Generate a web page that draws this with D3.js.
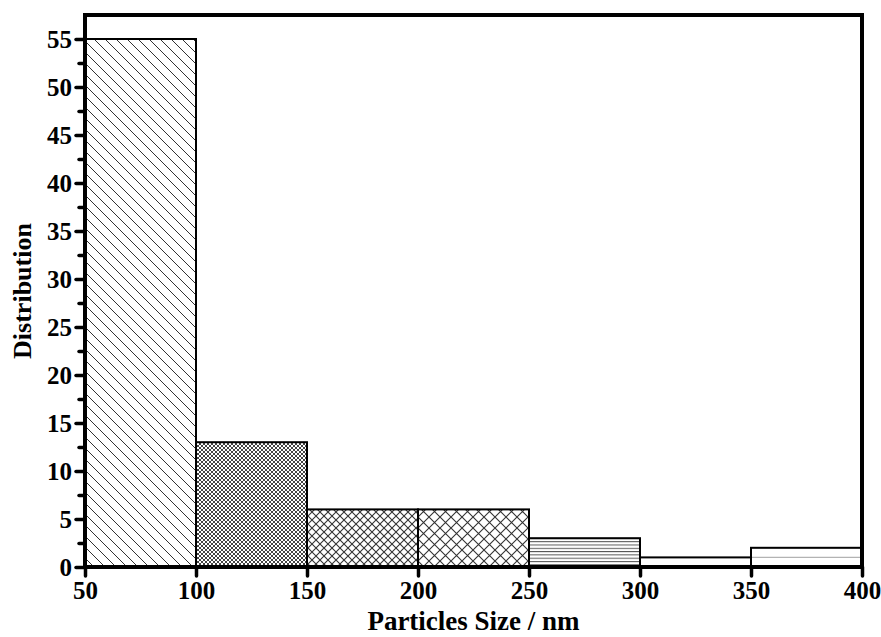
<!DOCTYPE html>
<html>
<head>
<script src="https://d3js.org/d3.v7.min.js"></script>
<style>
  body { margin: 0; background: #fff; }
  svg { font-family: "Liberation Serif", "Times New Roman", serif; font-weight: bold; }
  .bar { stroke: #000; stroke-width: 2; }
</style>
</head>
<body>
<svg id="chart" width="881" height="637"></svg>
<script>
// histogram bins (nm) and counts
var binEdges = [50, 100, 150, 200, 250, 300, 350, 400];
var counts = [55, 13, 6, 6, 3, 1, 2];
var xTicks = [50, 100, 150, 200, 250, 300, 350, 400];
var yTicks = [0, 5, 10, 15, 20, 25, 30, 35, 40, 45, 50, 55];
var yMinorTicks = [2.5, 7.5, 12.5, 17.5, 22.5, 27.5, 32.5, 37.5, 42.5, 47.5, 52.5];
var fills = ["diag", "xfine", "xmed", "xbig", "hfine", "hwide", "hwide"];

var svg = d3.select("#chart");
var margin = {left: 85, right: 19, top: 15, bottom: 70};
var W = 881, H = 637;

var x = d3.scaleLinear().domain([50, 400]).range([margin.left, W - margin.right]);
var y = d3.scaleLinear().domain([0, 57.5]).range([H - margin.bottom, margin.top]);

// hatch patterns
var defs = svg.append("defs");
function pat(id, size, d, w, col) {
  var p = defs.append("pattern").attr("id", id)
    .attr("patternUnits", "userSpaceOnUse")
    .attr("width", size[0]).attr("height", size[1]);
  p.append("rect").attr("width", size[0]).attr("height", size[1]).attr("fill", "#fff");
  p.append("path").attr("d", d).attr("stroke", col).attr("stroke-width", w).attr("fill", "none");
}
pat("diag", [11, 11], "M0,0L11,11M-1,10L1,12M10,-1L12,1", 1, "#333");
pat("xfine", [4, 4], "M0,0L4,4M4,0L0,4", 1, "#444");
pat("xmed", [8, 8], "M0,0L8,8M8,0L0,8", 1.1, "#333");
pat("xbig", [11, 11], "M0,0L11,11M11,0L0,11", 1.1, "#333");
pat("hfine", [10, 3.3], "M0,0.5H10", 1, "#555");
pat("hwide", [10, 9.6], "M0,0.2H10", 1.2, "#888");

var bins = counts.map(function(c, i) {
  return {x0: binEdges[i], x1: binEdges[i + 1], v: c, f: fills[i]};
});

svg.selectAll(".bar").data(bins).enter().append("rect")
  .attr("class", "bar")
  .attr("x", function(d) { return x(d.x0); })
  .attr("width", function(d) { return x(d.x1) - x(d.x0); })
  .attr("y", function(d) { return y(d.v); })
  .attr("height", function(d) { return y(0) - y(d.v); })
  .attr("fill", function(d) { return "url(#" + d.f + ")"; });

// frame
svg.append("rect")
  .attr("x", x(50)).attr("y", y(57.5))
  .attr("width", x(400) - x(50)).attr("height", y(0) - y(57.5))
  .attr("fill", "none").attr("stroke", "#000").attr("stroke-width", 4);

// axes
var xAxis = svg.append("g").attr("transform", "translate(0," + y(0) + ")")
  .call(d3.axisBottom(x).tickValues(xTicks).tickSize(9).tickPadding(3).tickFormat(d3.format("d")));
var yAxis = svg.append("g").attr("transform", "translate(" + x(50) + ",0)")
  .call(d3.axisLeft(y).tickValues(yTicks).tickSize(9).tickPadding(4).tickFormat(d3.format("d")));
var yMinor = svg.append("g").attr("transform", "translate(" + x(50) + ",0)")
  .call(d3.axisLeft(y).tickValues(yMinorTicks).tickSize(6).tickFormat(""));

[xAxis, yAxis, yMinor].forEach(function(g) {
  g.select(".domain").remove();
  g.selectAll(".tick line").attr("stroke", "#000").attr("stroke-width", 3.5).attr("stroke-linecap", "round");
  g.selectAll(".tick text")
    .attr("font-family", "Liberation Serif, Times New Roman, serif")
    .attr("font-size", 25).attr("font-weight", "bold").attr("fill", "#000");
});
xAxis.selectAll(".tick text").attr("dy", "0.8em");

// titles
svg.append("text")
  .attr("x", (x(50) + x(400)) / 2).attr("y", 630)
  .attr("text-anchor", "middle").attr("font-size", 27)
  .text("Particles Size / nm");

svg.append("text")
  .attr("transform", "translate(31," + (y(0) + y(57.5)) / 2 + ") rotate(-90)")
  .attr("text-anchor", "middle").attr("font-size", 26)
  .text("Distribution");
</script>
</body>
</html>
